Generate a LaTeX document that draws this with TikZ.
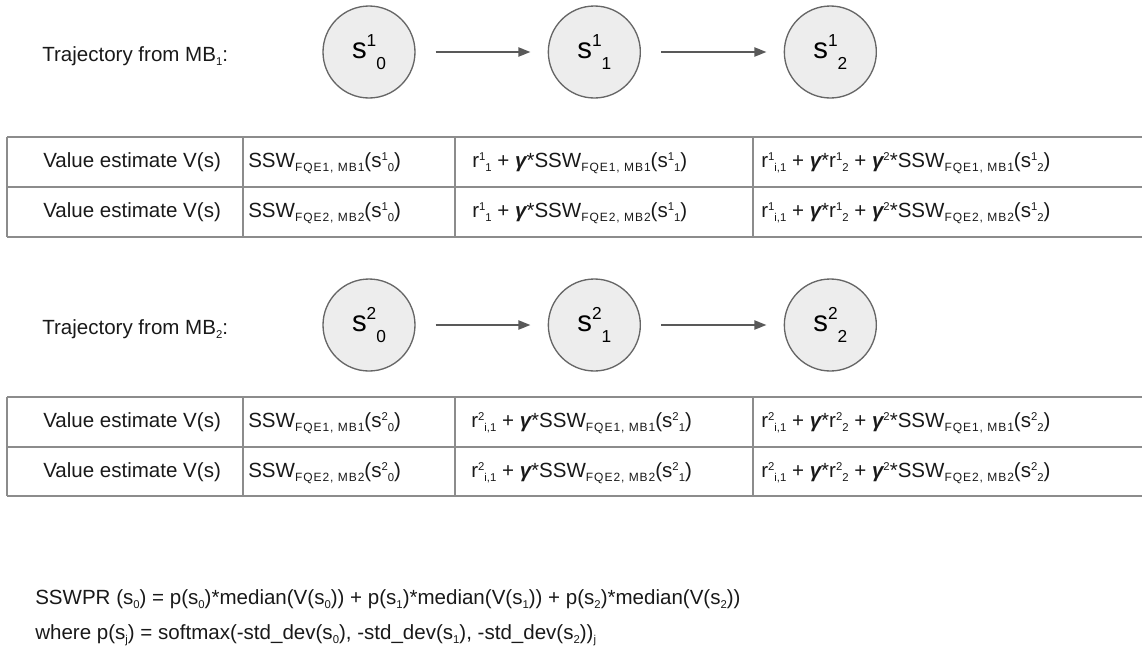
\documentclass[tikz,border=0pt]{standalone}
\usepackage{fontspec}
\setmainfont{Liberation Sans}
\usepackage{xcolor}
\usepackage{tikz}
\usetikzlibrary{positioning, arrows.meta}

\newcommand{\fs}{\fontsize{15.4}{18}\selectfont}
\newcommand{\ssz}{\fontsize{8.5}{8.5}\selectfont}
\newcommand{\hi}[1]{\raisebox{5pt}{\ssz #1}}
\newcommand{\lo}[1]{\raisebox{-3.5pt}{\ssz #1}}
\newcommand{\hilo}[2]{\hi{#1}\lo{#2}}
% estimator subscripts, spread out a bit
\newcommand{\est}[1]{\raisebox{-3.5pt}{\fontsize{9}{9}\selectfont\addfontfeatures{LetterSpace=8}#1}}
\newcommand{\gam}{{\bfseries\itshape γ}}
\newcommand{\stl}[2]{s\raisebox{9pt}{\fontsize{13}{13}\selectfont #1}\raisebox{-8pt}{\fontsize{13}{13}\selectfont #2}}

\begin{document}
\begin{tikzpicture}[x=0.75pt, y=-0.75pt,
  state/.style={circle, draw=black!60, fill=black!7, line width=1pt,
                minimum size=69pt, inner sep=0pt, font=\fontsize{22}{22}\selectfont},
  arr/.style={-{Triangle[length=9pt,width=7pt]}, line width=1pt, black!65,
              shorten <=15pt, shorten >=13pt},
  tabline/.style={line width=1.2pt, black!45},
  cell/.style={anchor=base west, inner sep=0pt, font=\fs, text=black!90}
]
  \useasboundingbox (0,0) rectangle (1142,654);

  % trajectory from MB1
  \node[cell] (lab1) at (42,61) {Trajectory from MB\lo{1}:};
  \node[state] (s10) at (369,52) {\stl{1}{0}};
  \node[state, right=99pt of s10] (s11) {\stl{1}{1}};
  \node[state, right=107pt of s11] (s12) {\stl{1}{2}};
  \draw[arr] (s10) -- (s11);
  \draw[arr] (s11) -- (s12);

  % table 1
  \foreach \y in {137,187,237}
    \draw[tabline] (7,\y) -- (1142,\y);
  \foreach \x in {7,243,455,753}
    \draw[tabline] (\x,137) -- (\x,237);
  \node[cell] (v11) at (43,167) {Value estimate V(s)};
  \node[cell] (a11) at (248,167) {SSW\est{FQE1, MB1}(s\hilo{1}{0})};
  \node[cell] (b11) at (472,167) {r\hilo{1}{1} + \gam*SSW\est{FQE1, MB1}(s\hilo{1}{1})};
  \node[cell] (c11) at (761,167) {r\hilo{1}{i,1} + \gam*r\hilo{1}{2} + \gam\hi{2}*SSW\est{FQE1, MB1}(s\hilo{1}{2})};
  \node[cell] (v12) at (43,217) {Value estimate V(s)};
  \node[cell] (a12) at (248,217) {SSW\est{FQE2, MB2}(s\hilo{1}{0})};
  \node[cell] (b12) at (472,217) {r\hilo{1}{1} + \gam*SSW\est{FQE2, MB2}(s\hilo{1}{1})};
  \node[cell] (c12) at (761,217) {r\hilo{1}{i,1} + \gam*r\hilo{1}{2} + \gam\hi{2}*SSW\est{FQE2, MB2}(s\hilo{1}{2})};

  % trajectory from MB2
  \node[cell] (lab2) at (42,334) {Trajectory from MB\lo{2}:};
  \node[state] (s20) at (369,325) {\stl{2}{0}};
  \node[state, right=99pt of s20] (s21) {\stl{2}{1}};
  \node[state, right=107pt of s21] (s22) {\stl{2}{2}};
  \draw[arr] (s20) -- (s21);
  \draw[arr] (s21) -- (s22);

  % table 2
  \foreach \y in {397,447,496}
    \draw[tabline] (7,\y) -- (1142,\y);
  \foreach \x in {7,243,455,753}
    \draw[tabline] (\x,397) -- (\x,496);
  \node[cell] (v21) at (43,427) {Value estimate V(s)};
  \node[cell] (a21) at (248,427) {SSW\est{FQE1, MB1}(s\hilo{2}{0})};
  \node[cell] (b21) at (471,427) {r\hilo{2}{i,1} + \gam*SSW\est{FQE1, MB1}(s\hilo{2}{1})};
  \node[cell] (c21) at (761,427) {r\hilo{2}{i,1} + \gam*r\hilo{2}{2} + \gam\hi{2}*SSW\est{FQE1, MB1}(s\hilo{2}{2})};
  \node[cell] (v22) at (43,477) {Value estimate V(s)};
  \node[cell] (a22) at (248,477) {SSW\est{FQE2, MB2}(s\hilo{2}{0})};
  \node[cell] (b22) at (471,477) {r\hilo{2}{i,1} + \gam*SSW\est{FQE2, MB2}(s\hilo{2}{1})};
  \node[cell] (c22) at (761,477) {r\hilo{2}{i,1} + \gam*r\hilo{2}{2} + \gam\hi{2}*SSW\est{FQE2, MB2}(s\hilo{2}{2})};

  % SSWPR
  \node[cell] (f1) at (35,604) {SSWPR (s\lo{0}) = p(s\lo{0})*median(V(s\lo{0})) + p(s\lo{1})*median(V(s\lo{1})) + p(s\lo{2})*median(V(s\lo{2}))};
  \node[cell] (f2) at (35,639) {where p(s\lo{j}) = softmax(-std\_dev(s\lo{0}), -std\_dev(s\lo{1}), -std\_dev(s\lo{2}))\lo{j}};
\end{tikzpicture}
\end{document}
